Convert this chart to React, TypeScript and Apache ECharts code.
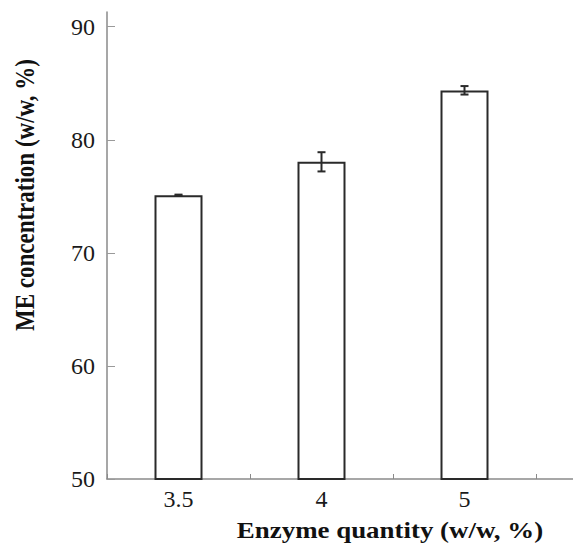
import React, { useEffect, useRef } from "react";
import * as echarts from "echarts";

// Enzyme loading (w/w, %) and resulting ME concentration (w/w, %)
const categories = ["3.5", "4", "5", ""];
const meConcentration = [75.1, 78.05, 84.35];
const errorLow = [75.05, 77.2, 84.0];
const errorHigh = [75.15, 78.9, 84.75];
const yTicks = [50, 60, 70, 80, 90];

const xTitle = "Enzyme quantity (w/w, %)";
const yTitle = "ME concentration (w/w, %)";

const FONT = "'Liberation Serif', 'Times New Roman', serif";

export default function App() {
  const ref = useRef<HTMLDivElement>(null);

  useEffect(() => {
    if (!ref.current) return;
    const chart = echarts.init(ref.current, null, { renderer: "svg" });

    const errorData = meConcentration.map((_, i) => [i, errorLow[i], errorHigh[i]]);

    const titleStyle = {
      fill: "#111",
      fontFamily: FONT,
      fontSize: 23,
      fontWeight: "bold",
      align: "center",
      verticalAlign: "middle",
    };

    chart.setOption({
      animation: false,
      backgroundColor: "#ffffff",
      // four category slots; the last one runs past the right edge
      grid: { left: 107, top: 12, width: 572, height: 467, outerBoundsMode: "none", containLabel: false },
      xAxis: [
        {
          type: "category",
          data: categories,
          boundaryGap: true,
          axisLine: { lineStyle: { color: "#8a8a8a", width: 1.5 } },
          axisTick: { show: true, inside: true, length: 5, lineStyle: { color: "#8a8a8a" } },
          axisLabel: {
            color: "#1a1a1a",
            fontFamily: FONT,
            fontSize: 24,
            margin: 8,
          },
          splitLine: { show: false },
        },
        {
          type: "category",
          data: categories,
          position: "bottom",
          boundaryGap: true,
          axisLine: { show: false },
          axisTick: { show: true, inside: true, alignWithLabel: true, length: 3, lineStyle: { color: "#8a8a8a" } },
          axisLabel: { show: false },
        },
      ],
      yAxis: {
        type: "value",
        min: 50,
        max: 91.3,
        interval: 10,
        axisLine: { show: true, lineStyle: { color: "#8a8a8a", width: 1.5 } },
        axisTick: {
          show: true,
          inside: true,
          length: 8,
          customValues: yTicks,
          lineStyle: { color: "#9a9a9a" },
        },
        axisLabel: {
          color: "#1a1a1a",
          fontFamily: FONT,
          fontSize: 24,
          margin: 12,
          customValues: yTicks,
        },
        splitLine: { show: false },
      },
      graphic: [
        {
          type: "text",
          x: 390,
          y: 530,
          scaleX: 1.17,
          style: { ...titleStyle, text: xTitle },
        },
        {
          type: "text",
          x: 25,
          y: 195,
          rotation: Math.PI / 2,
          scaleY: 1.17,
          style: { ...titleStyle, text: yTitle },
        },
      ],
      series: [
        {
          type: "bar",
          data: meConcentration,
          barWidth: 48,
          itemStyle: { color: "#ffffff", borderColor: "#2a2a2a", borderWidth: 2 },
        },
        {
          type: "custom",
          data: errorData,
          z: 10,
          renderItem: (params: any, api: any) => {
            const idx = api.value(0);
            const lo = api.coord([idx, api.value(1)]);
            const hi = api.coord([idx, api.value(2)]);
            const half = 4;
            const style = { stroke: "#2a2a2a", lineWidth: 2 };
            return {
              type: "group",
              children: [
                { type: "line", shape: { x1: lo[0], y1: lo[1], x2: hi[0], y2: hi[1] }, style },
                { type: "line", shape: { x1: hi[0] - half, y1: hi[1], x2: hi[0] + half, y2: hi[1] }, style },
                { type: "line", shape: { x1: lo[0] - half, y1: lo[1], x2: lo[0] + half, y2: lo[1] }, style },
              ],
            };
          },
        },
      ],
    });

    return () => chart.dispose();
  }, []);

  return (
    <div
      ref={ref}
      style={{ position: "fixed", left: 0, top: 0, width: 573, height: 545, background: "#fff" }}
    />
  );
}
